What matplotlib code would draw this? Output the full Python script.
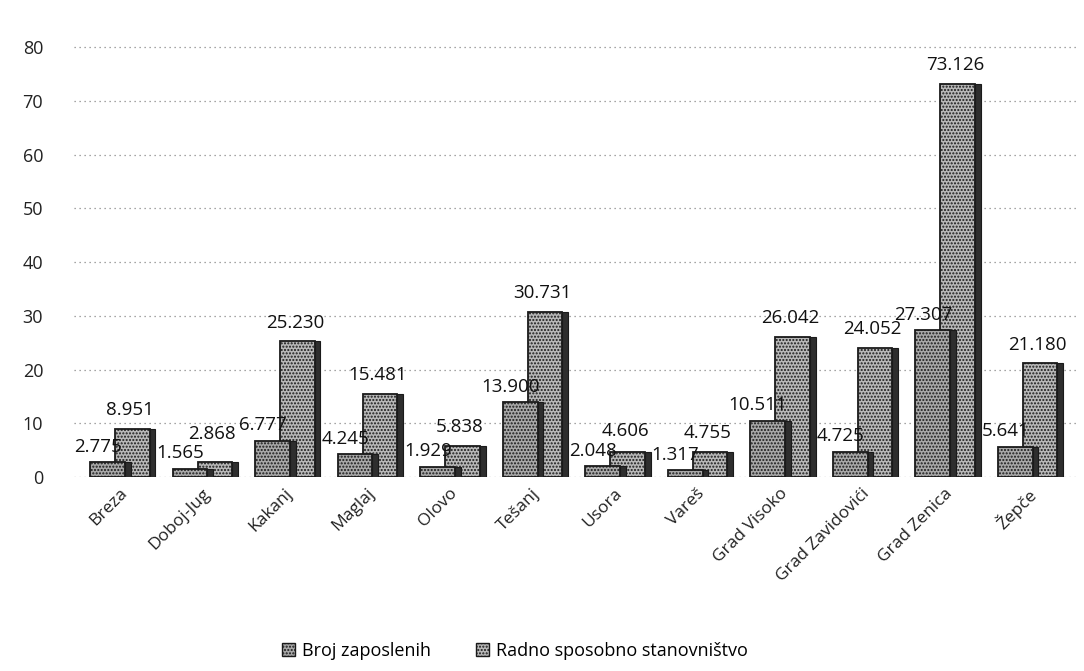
import numpy as np
import matplotlib
matplotlib.use("Agg")
import matplotlib.pyplot as plt

plt.rcParams['font.family'] = ['Open Sans', 'DejaVu Sans']
plt.rcParams['hatch.color'] = '#3c3c3c'
plt.rcParams['hatch.linewidth'] = 1.0

# data
opcine = ['Breza', 'Doboj-Jug', 'Kakanj', 'Maglaj', 'Olovo', 'Tešanj', 'Usora',
          'Vareš', 'Grad Visoko', 'Grad Zavidovići', 'Grad Zenica', 'Žepče']
zaposleni = [2.775, 1.565, 6.777, 4.245, 1.929, 13.900, 2.048, 1.317, 10.511, 4.725, 27.307, 5.641]
radno_sposobni = [8.951, 2.868, 25.230, 15.481, 5.838, 30.731, 4.606, 4.755, 26.042, 24.052, 73.126, 21.180]
yticks = [0, 10, 20, 30, 40, 50, 60, 70, 80]

fig = plt.figure(figsize=(10.84, 6.71), dpi=100)
ax = fig.add_axes([0.068, 0.289, 0.925, 0.689])

x = np.arange(len(opcine))
w = 0.42
side = 0.07

# back series (right), front series (left)
for vals, off, col, z in [(radno_sposobni, 0.16, '#b8b8b8', 2), (zaposleni, -0.14, '#a8a8a8', 3)]:
    ax.bar(x + off, vals, width=w, color=col, edgecolor='#1a1a1a', linewidth=1.3,
           hatch='.....', zorder=z)
    # dark side face for a 3D look
    ax.bar(x + off + w / 2 + side / 2, vals, width=side, color='#2e2e2e',
           edgecolor='#1a1a1a', linewidth=0.8, zorder=z)

# data labels
for i in range(len(opcine)):
    y1 = zaposleni[i] + 1.2
    y2 = max(radno_sposobni[i] + 1.8, y1 + 3.6)
    ax.text(x[i] - 0.26, y1, f'{zaposleni[i]:.3f}', ha='center', va='bottom',
            fontsize=13.5, color='#111111', zorder=5)
    ax.text(x[i] + 0.13, y2, f'{radno_sposobni[i]:.3f}', ha='center',
            va='bottom', fontsize=13.5, color='#111111', zorder=5)

ax.set_ylim(0, 86)
ax.set_xlim(-0.55, len(opcine) - 0.4)
ax.set_yticks(yticks)
ax.set_yticklabels([str(t) for t in yticks], fontsize=13, color='#222222')
ax.yaxis.grid(True, color='#888888', linestyle=(0, (1, 3)), linewidth=0.9)
ax.set_axisbelow(True)
ax.tick_params(axis='y', length=0, pad=22)
ax.tick_params(axis='x', length=0, pad=6)
ax.set_xticks(x)
ax.set_xticklabels(opcine, rotation=45, ha='right', rotation_mode='anchor', fontsize=12.5,
                   color='#222222')
for s in ax.spines.values():
    s.set_visible(False)

h1 = plt.Rectangle((0, 0), 1, 1, facecolor='#a8a8a8', edgecolor='#1a1a1a', hatch='.....')
h2 = plt.Rectangle((0, 0), 1, 1, facecolor='#b8b8b8', edgecolor='#1a1a1a', hatch='.....')
fig.legend([h1, h2], ['Broj zaposlenih', 'Radno sposobno stanovništvo'], loc='center',
           bbox_to_anchor=(0.475, 0.03), ncol=2, frameon=False, fontsize=13,
           handlelength=0.7, handleheight=0.7, columnspacing=2.5, handletextpad=0.4)

fig.savefig('out.png', dpi=100)
